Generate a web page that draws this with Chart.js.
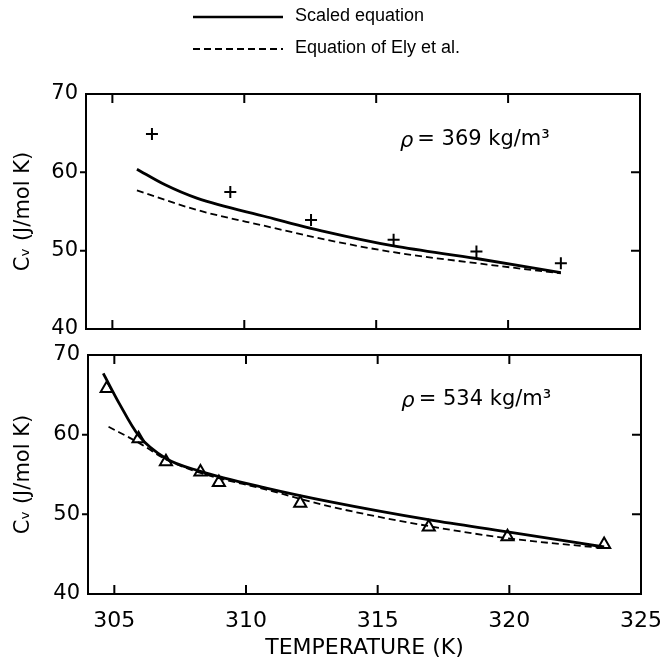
<!DOCTYPE html>
<html>
<head>
<meta charset="utf-8">
<script src="https://cdn.jsdelivr.net/npm/chart.js@4"></script>
<style>
  html, body { margin: 0; padding: 0; background: #fff; }
  #wrap { position: relative; width: 660px; height: 666px; }
  canvas { position: absolute; left: 0; }
  #topChart { top: 0; }
  #bottomChart { top: 340px; }
</style>
</head>
<body>
<div id="wrap">
  <canvas id="topChart" width="660" height="340"></canvas>
  <canvas id="bottomChart" width="660" height="326"></canvas>
</div>
<script>
// axes
const tempMin = 304;
const tempMax = 325;
const tempTicks = [305, 310, 315, 320, 325];
const cvTicks = [40, 50, 60, 70];

// rho = 369 kg/m3
const topPointsT = [306.5, 309.47, 312.53, 315.66, 318.8, 322.0];
const topPointsCv = [64.9, 57.5, 53.9, 51.4, 49.9, 48.4];
const topScaledT = [305.93, 307.0, 308.2, 310.86, 313.1, 315.66, 318.8, 322.0];
const topScaledCv = [60.4, 58.4, 56.7, 54.3, 52.4, 50.6, 49.0, 47.2];
const topElyT = [305.93, 308.2, 310.86, 313.1, 315.66, 318.8, 322.0];
const topElyCv = [57.7, 55.2, 53.1, 51.4, 49.8, 48.4, 47.1];

// rho = 534 kg/m3
const bottomPointsT = [304.71, 305.92, 306.96, 308.27, 308.97, 312.06, 316.94, 319.93, 323.6];
const bottomPointsCv = [65.8, 59.5, 56.6, 55.3, 54.0, 51.4, 48.4, 47.2, 46.2];
const bottomScaledT = [304.58, 305.19, 305.92, 306.96, 308.27, 310.77, 313.17, 316.98, 319.93, 323.6];
const bottomScaledCv = [67.7, 63.9, 59.9, 57.0, 55.4, 53.3, 51.6, 49.3, 47.8, 45.9];
const bottomElyT = [304.78, 305.92, 306.96, 308.27, 310.77, 313.17, 316.98, 319.93, 323.6];
const bottomElyCv = [61.0, 59.0, 56.9, 55.2, 53.1, 51.0, 48.5, 47.0, 45.75];

const legendLabels = ["Scaled equation", "Equation of Ely et al."];
const yTitle = "Cᵥ (J/mol K)";
const xTitle = "TEMPERATURE (K)";

const numFont = "'DejaVu Sans', sans-serif";
const textFont = "'Liberation Sans', sans-serif";

const toXY = (xs, ys) => xs.map((x, i) => ({ x, y: ys[i] }));

// box round the plot with inward ticks (outward on the left)
const framePlugin = {
  id: "frame",
  afterDraw(chart) {
    const { ctx, chartArea: a, scales } = chart;
    ctx.save();
    ctx.strokeStyle = "#000";
    ctx.lineWidth = 2;
    ctx.strokeRect(a.left, a.top, a.right - a.left, a.bottom - a.top);
    ctx.beginPath();
    tempTicks.forEach((t) => {
      if (t <= tempMin || t >= tempMax) return;
      const px = scales.x.getPixelForValue(t);
      ctx.moveTo(px, a.top);
      ctx.lineTo(px, a.top + 9);
      ctx.moveTo(px, a.bottom);
      ctx.lineTo(px, a.bottom - 9);
    });
    cvTicks.forEach((v) => {
      if (v <= 40 || v >= 70) return;
      const py = scales.y.getPixelForValue(v);
      ctx.moveTo(a.right, py);
      ctx.lineTo(a.right - 9, py);
      ctx.moveTo(a.left, py);
      ctx.lineTo(a.left - 6, py);
    });
    ctx.stroke();
    ctx.restore();
  },
};

// density note inside each panel
const rhoPlugin = {
  id: "rho",
  afterDraw(chart, args, opts) {
    const { ctx, scales } = chart;
    const x = scales.x.getPixelForValue(opts.t);
    const y = scales.y.getPixelForValue(opts.cv);
    ctx.save();
    ctx.fillStyle = "#000";
    ctx.textBaseline = "middle";
    ctx.font = "italic 21px " + numFont;
    ctx.fillText("ρ", x, y + 2);
    const w = ctx.measureText("ρ").width;
    ctx.font = "21px " + numFont;
    ctx.fillText(opts.text, x + w + 4, y);
    ctx.restore();
  },
};

// two-line legend above the top panel
const legendPlugin = {
  id: "lineLegend",
  afterDraw(chart) {
    const { ctx } = chart;
    ctx.save();
    ctx.strokeStyle = "#000";
    ctx.fillStyle = "#000";
    ctx.lineWidth = 2.6;
    ctx.beginPath();
    ctx.moveTo(193, 17);
    ctx.lineTo(283, 17);
    ctx.stroke();
    ctx.lineWidth = 1.8;
    ctx.setLineDash([7, 4]);
    ctx.beginPath();
    ctx.moveTo(193, 49);
    ctx.lineTo(283, 49);
    ctx.stroke();
    ctx.setLineDash([]);
    ctx.font = "18px " + textFont;
    ctx.textBaseline = "middle";
    ctx.fillText(legendLabels[0], 295, 16);
    ctx.fillText(legendLabels[1], 295, 48);
    ctx.restore();
  },
};

const makeDatasets = (pt, pc, st, sc, et, ec, marker) => [
  {
    label: legendLabels[0],
    data: toXY(st, sc),
    showLine: true,
    borderColor: "#000",
    borderWidth: 2.8,
    pointRadius: 0,
    cubicInterpolationMode: "monotone",
  },
  {
    label: legendLabels[1],
    data: toXY(et, ec),
    showLine: true,
    borderColor: "#000",
    borderWidth: 1.8,
    borderDash: [7, 4],
    pointRadius: 0,
    cubicInterpolationMode: "monotone",
  },
  {
    label: "data",
    data: toXY(pt, pc),
    showLine: false,
    pointStyle: marker,
    pointRadius: marker === "cross" ? 6 : 7,
    pointBorderWidth: 2,
    pointBorderColor: "#000",
    pointBackgroundColor: "#fff",
  },
];

const makeOptions = (isBottom, rho) => ({
  responsive: false,
  animation: false,
  layout: {
    padding: isBottom
      ? { top: 15, right: 19, left: 0, bottom: 0 }
      : { top: 94, right: 20, left: 0, bottom: 0 },
  },
  plugins: {
    legend: { display: false },
    tooltip: { enabled: false },
    rho,
  },
  scales: {
    x: {
      type: "linear",
      min: tempMin,
      max: tempMax,
      afterBuildTicks: (s) => { s.ticks = tempTicks.map((v) => ({ value: v })); },
      afterFit: (s) => {
        s.height = isBottom ? 72 : 11;
        s.paddingLeft = 0;
        s.paddingRight = 0;
      },
      grid: { display: false },
      border: { display: false },
      ticks: {
        display: isBottom,
        color: "#000",
        padding: 6,
        maxRotation: 0,
        font: { family: numFont, size: 22 },
      },
      title: {
        display: isBottom,
        text: xTitle,
        color: "#000",
        padding: { top: 0, bottom: 5 },
        font: { family: numFont, size: 22 },
      },
    },
    y: {
      min: 40,
      max: 70,
      afterBuildTicks: (s) => { s.ticks = cvTicks.map((v) => ({ value: v })); },
      afterFit: (s) => {
        s.width = isBottom ? 88 : 86;
        s.paddingTop = 0;
        s.paddingBottom = 0;
      },
      grid: { display: false, drawTicks: false },
      border: { display: false },
      ticks: {
        color: "#000",
        padding: 8,
        font: { family: numFont, size: 21 },
      },
      title: {
        display: true,
        text: yTitle,
        color: "#000",
        padding: { top: 11, bottom: 0 },
        font: { family: numFont, size: 21 },
      },
    },
  },
});

new Chart(document.getElementById("topChart"), {
  type: "scatter",
  data: {
    datasets: makeDatasets(topPointsT, topPointsCv, topScaledT, topScaledCv, topElyT, topElyCv, "cross"),
  },
  options: makeOptions(false, { text: "= 369 kg/m³", t: 315.9, cv: 64.2 }),
  plugins: [framePlugin, rhoPlugin, legendPlugin],
});

new Chart(document.getElementById("bottomChart"), {
  type: "scatter",
  data: {
    datasets: makeDatasets(bottomPointsT, bottomPointsCv, bottomScaledT, bottomScaledCv, bottomElyT, bottomElyCv, "triangle"),
  },
  options: makeOptions(true, { text: "= 534 kg/m³", t: 315.9, cv: 64.4 }),
  plugins: [framePlugin, rhoPlugin],
});
</script>
</body>
</html>
